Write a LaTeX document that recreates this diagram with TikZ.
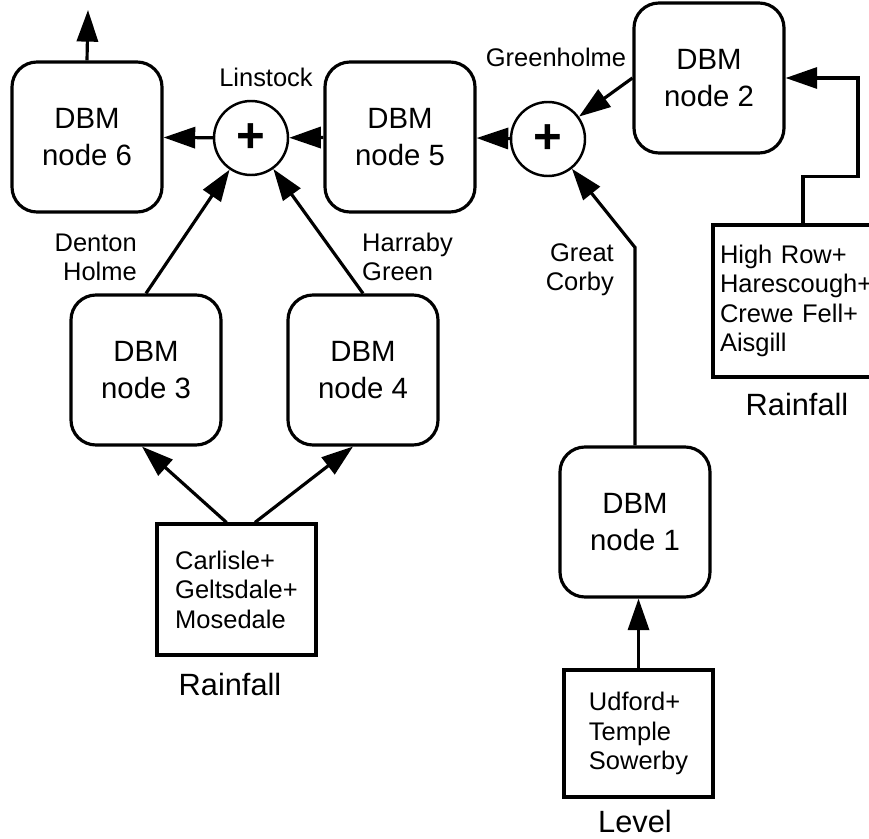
\documentclass[tikz,border=0pt]{standalone}
\usepackage{fontspec}
\setmainfont{Liberation Sans}
\usetikzlibrary{arrows.meta}

\begin{document}
\begin{tikzpicture}[
  dbm/.style={draw,line width=1.8pt,rounded corners=0.5cm,minimum width=3cm,minimum height=3cm,align=center,font=\fontsize{16.7}{21}\selectfont},
  sumnode/.style={draw,circle,line width=1.4pt,minimum size=1.48cm,inner sep=0pt,font=\fontsize{28}{28}\selectfont\bfseries},
  inbox/.style={draw,line width=1.8pt,align=left,font=\fontsize{14.5}{16.8}\selectfont},
  lbl/.style={font=\fontsize{14.5}{16.5}\selectfont},
  src/.style={font=\fontsize{17.5}{20}\selectfont},
  arr/.style={line width=1.8pt,-{Triangle[length=18pt,width=12pt]}}]
\useasboundingbox (0,0) rectangle (17.38,-16.78);
% model nodes
\node[dbm] (n6) at (1.74,-2.74) {DBM\\node 6};
\node[dbm] (n5) at (8.0,-2.74) {DBM\\node 5};
\node[dbm] (n2) at (14.18,-1.56) {DBM\\node 2};
\node[dbm] (n3) at (2.92,-7.4) {DBM\\node 3};
\node[dbm] (n4) at (7.26,-7.4) {DBM\\node 4};
\node[dbm] (n1) at (12.7,-10.44) {DBM\\node 1};
% junctions
\node[sumnode] (sumL) at (5.02,-2.76) {+};
\node[sumnode] (sumG) at (10.96,-2.78) {+};
% inputs
\node[inbox,minimum width=3.18cm,minimum height=2.62cm] (rain1) at (4.73,-11.79) {Carlisle+\\Geltsdale+\\Mosedale};
\node[inbox,minimum width=2.98cm,minimum height=2.54cm] (level) at (12.77,-14.67) {Udford+\\Temple\\Sowerby};
\node[inbox,text width=3.32cm,inner xsep=0.14cm,minimum height=3.04cm] (rainR) at (16.06,-6.02) {High Row+\\Harescough+\\Crewe Fell+\\Aisgill};
% labels
\node[lbl] (tLin) at (5.32,-1.54) {Linstock};
\node[lbl] (tGre) at (11.12,-1.14) {Greenholme};
\node[lbl,anchor=east,align=right] (tDen) at (2.86,-5.14) {Denton\\Holme};
\node[lbl,anchor=west,align=left] (tHar) at (7.12,-5.14) {Harraby\\Green};
\node[lbl,anchor=east,align=right] (tCor) at (12.4,-5.4) {Great\\Corby};
\node[src] (tRain1) at (4.6,-13.7) {Rainfall};
\node[src] (tLevel) at (12.7,-16.44) {Level};
\node[src] (tRainR) at (15.94,-8.1) {Rainfall};
\coordinate (out) at (1.76,-0.2);
\coordinate (bend) at (17.16,-1.56);
% connectors
\draw[arr] (n6.north) -- (out);
\draw[arr] (sumL) -- (n6);
\draw[arr] (n5) -- (sumL);
\draw[arr] (sumG) -- (n5);
\draw[arr] (n2.west) -- (sumG);
\draw[arr] (n3.north) -- (sumL);
\draw[arr] (n4.north) -- (sumL);
\draw[arr] (n1.north) -- ++(0,3.96) -- (sumG);
\draw[arr] ([xshift=-0.2cm]rain1.north) -- ([xshift=-0.08cm]n3.south);
\draw[arr] ([xshift=0.37cm]rain1.north) -- ([xshift=-0.2cm]n4.south);
\draw[arr] (level.north) -- (level.north |- n1.south);
\draw[arr] (rainR.north) -- ++(0,0.94) -| (bend) -- (n2.east);
\end{tikzpicture}
\end{document}
